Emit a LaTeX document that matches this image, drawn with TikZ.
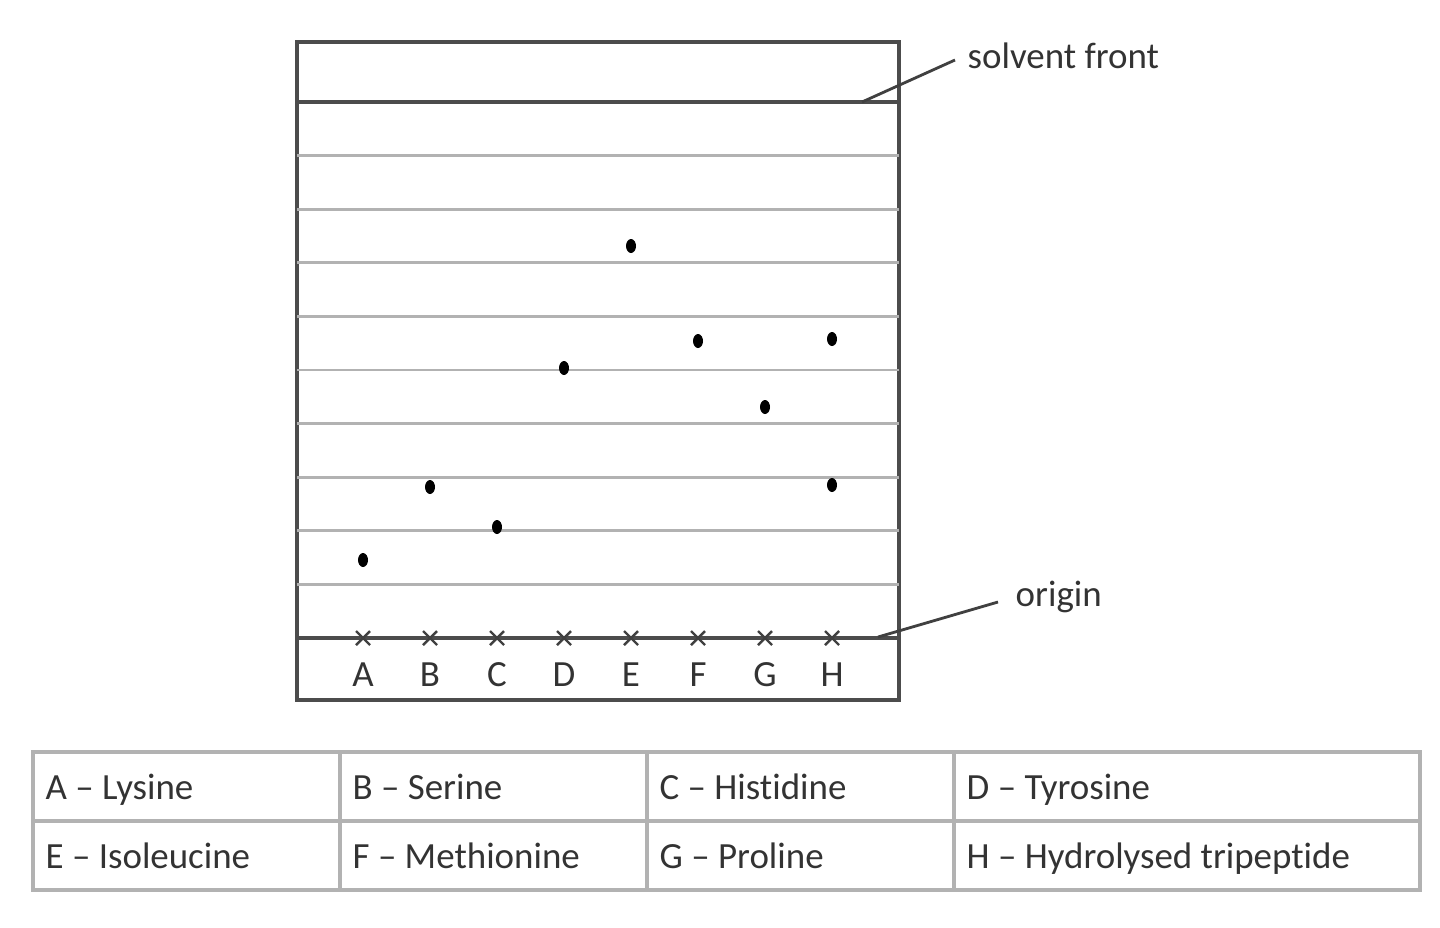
\documentclass[tikz,border=0pt]{standalone}
\usepackage{fontspec}
\setmainfont{Carlito}[Ligatures={TeX,NoCommon}]
\usetikzlibrary{positioning}

\begin{document}
\begin{tikzpicture}[x=0.01cm,y=-0.01cm,
  frame/.style={draw=black!70,line width=1.1pt},
  rule/.style={draw=black!30,line width=0.8pt},
  cell/.style={draw=black!30,line width=0.9pt},
  leader/.style={draw=black!75,line width=0.8pt},
  txt/.style={font=\fontsize{10.5}{12}\selectfont,text=black!80,inner sep=0pt,
    text height=1.6ex,text depth=0.4ex}]
\useasboundingbox (0,0) rectangle (1440,927);
% plate with solvent front, grid and origin
\draw[frame] (297,42) rectangle (899,700);
\draw[frame] (297,102) -- (899,102) coordinate(front);
\foreach \i in {1,...,9}
  \draw[rule] (297,{102+53.6*\i}) -- (899,{102+53.6*\i});
\draw[frame] (297,638) -- (899,638) coordinate(origin);
% lanes
\foreach \l [count=\i from 0] in {A,B,C,D,E,F,G,H} {
  \node[txt] (lane\l) at ({363+67*\i},676) {\l};
  \draw[black!75,line width=0.7pt]
    ({363+67*\i-7},631) -- ++(14,14)
    ({363+67*\i-7},645) -- ++(14,-14);
}
% spots
\foreach \x/\y in {363/560, 430/487, 497/527, 564/368, 631/246,
                   698/341, 765/407, 832/339, 832/485}
  \fill (\x,\y) ellipse [x radius=0.05cm, y radius=0.07cm];
% labels
\coordinate (front tip) at (862,102);
\coordinate (origin tip) at (878,637);
\node[txt,anchor=west] (solvent) at (967,58) {solvent front};
\node[txt,anchor=west] (originlabel) at (1015,596) {origin};
\draw[leader] (front tip) -- ([xshift=-0.12cm,yshift=-0.02cm]solvent.west);
\draw[leader] (origin tip) -- ([xshift=-0.17cm,yshift=-0.06cm]originlabel.west);
% key table
\foreach \c in {33,340,647}
  \foreach \r in {752,821}
    \draw[cell] (\c,\r) rectangle ++(307,69);
\draw[cell] (954,752) rectangle (1420,890);
\draw[cell] (954,821) -- (1420,821);
\foreach \r/\name/\a/\b/\c/\d in {789/top/A -- Lysine/B -- Serine/C -- Histidine/D -- Tyrosine,
    858/bottom/E -- Isoleucine/F -- Methionine/G -- Proline/H -- Hydrolysed tripeptide} {
  \node[txt,anchor=west] (\name a) at (45,\r) {\a};
  \node[txt,anchor=west] (\name b) at (352,\r) {\b};
  \node[txt,anchor=west] (\name c) at (659,\r) {\c};
  \node[txt,anchor=west] (\name d) at (966,\r) {\d};
}
\end{tikzpicture}
\end{document}
